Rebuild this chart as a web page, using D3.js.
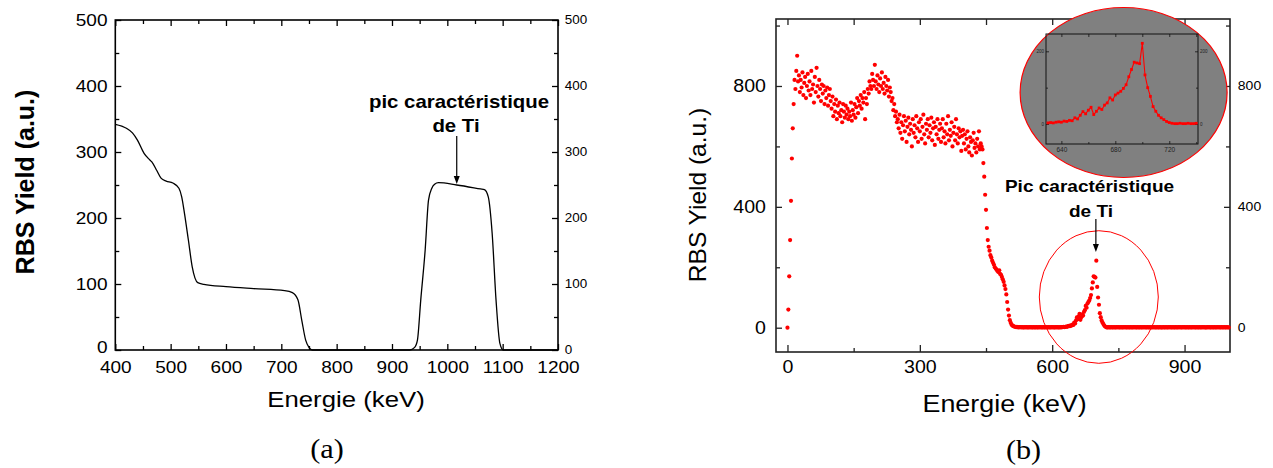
<!DOCTYPE html>
<html><head><meta charset="utf-8">
<script src="https://cdn.jsdelivr.net/npm/d3@7"></script>
<style>body{margin:0;background:#fff}svg{display:block}</style>
</head><body>
<svg id="c" width="1273" height="468"></svg>
<script>
// ---------- Panel (a): simulated RBS spectrum ----------
const simEnergy = [400,420,431,440,452,460,466,475,483,492,504,515,520,525,532,539,549,560,600,650,706,720,730,737,744,750,756,800,900,932,941,946,952,960,966,972,977,984,1017,1060,1067,1074,1081,1088,1095,1101,1150,1200];
const simYield  = [342,336,329,318,298,290,285,272,260,256,253,245,232,207,167,126,102,99.5,96,93,90,87,76,45,15,4,0,0,0,0,4,15,76,152,227,245,251,253.5,250,244,243,232,177,76,10,0,0,0];
const aXTicks = [400,500,600,700,800,900,1000,1100,1200];
const aXMinor = [450,550,650,750,850,950,1050,1150];
const aYTicks = [0,100,200,300,400,500];
const aYMinor = [50,150,250,350,450];

// ---------- Panel (b): measured RBS spectrum (2 keV channels from 0 keV) ----------
const spectrumStart = 0;
const spectrumStep = 2;
const spectrumYield = [
 0,60,170,290,420,560,660,740,820,790,850,900,815,835,780,820,795,845,770,810,830,760,800,840,785,
 815,770,850,790,805,745,830,780,860,800,765,820,790,750,805,775,800,740,785,760,795,735,770,790,750,
 725,765,700,740,715,755,690,735,710,745,700,720,680,740,715,695,735,705,725,690,715,700,745,685,720,
 705,740,695,730,760,710,750,735,770,725,760,745,780,690,760,740,790,775,815,800,790,840,820,800,870,
 815,790,835,805,780,825,800,845,790,810,775,830,800,785,820,765,795,780,750,760,720,740,700,715,680,
 690,660,705,645,680,625,670,700,650,685,615,665,695,640,675,655,600,690,645,670,630,700,660,615,680,
 650,690,625,665,705,640,610,675,655,690,630,670,645,695,620,660,680,605,665,640,690,625,655,675,615,
 660,690,630,650,610,675,640,700,620,655,635,680,600,645,665,620,690,640,610,660,630,650,585,635,655,
 610,640,590,625,650,600,580,630,615,570,620,645,595,610,580,625,600,650,590,610,600,590,545,500,440,
 390,330,290,268,255,240,232,222,215,208,200,196,192,188,184,190,178,175,168,160,152,140,128,110,85,
 60,40,25,16,10,7,5,4,3,2,3,2,1,2,2,1,2,1,1,2,1,2,1,1,2,
 1,2,1,1,2,1,1,2,1,1,2,1,2,1,1,2,1,1,2,1,1,2,1,1,2,
 1,2,1,1,2,1,2,1,1,2,1,2,2,3,2,3,4,3,5,6,5,8,7,10,9,
 17,14,24,34,28,38,46,26,35,44,40,52,58,72,66,80,85,90,98,108,130,150,170,168,166,
 222,135,100,76,48,35,24,17,12,7,4,2,1,1,2,1,1,2,1,1,2,1,1,2,1,
 2,1,1,2,1,1,2,1,2,1,1,2,1,1,2,1,1,2,1,2,1,1,2,1,1,
 2,1,1,2,1,2,1,1,2,1,1,2,1,1,2,1,2,1,1,2,1,1,2,1,1,
 1,2,1,1,2,1,1,2,1,2,1,1,2,1,1,2,1,1,2,1,2,1,1,2,1,
 2,1,1,2,1,1,2,1,1,2,1,2,1,1,2,1,1,2,1,1,2,1,2,1,1,
 1,2,1,2,1,1,2,1,1,2,1,1,2,1,2,1,1,2,1,1,2,1,1,2,1,
 1
];
const bXTicks = [0,300,600,900];
const bXMinor = [150,450,750];
const bYTicks = [0,400,800];
const bYMinor = [200,600,1000];
const insetXTicks = [640,680,720];
const insetXMinor = [660,700,740];
const insetYTicks = [0,200];
const insetYMinor = [100];

const spectrum = spectrumYield.map((v,i)=>({e: spectrumStart + i*spectrumStep, y: v}));

// ---------- drawing ----------
const SX = 1.12;
const FONT = "'Liberation Sans', Arial, Helvetica, sans-serif";
const SERIF = "'Liberation Serif', 'Times New Roman', serif";
const svg = d3.select("#c");

function txt(g, x, y, s, o = {}) {
  const t = g.append("text")
    .attr("transform", `translate(${x},${y}) scale(${o.sx ?? SX},1)` + (o.rot ? ` rotate(${o.rot})` : ""))
    .attr("text-anchor", o.anchor || "middle")
    .attr("font-family", o.family || FONT)
    .attr("font-size", o.size || 17)
    .attr("font-weight", o.weight || "normal")
    .attr("fill", o.fill || "#000")
    .text(s);
  return t;
}
function styleAxis(g, size, color) {
  g.select(".domain").remove();
  g.selectAll(".tick line").attr("stroke", color).attr("stroke-width", 1.3);
  g.selectAll(".tick text").attr("font-family", FONT).attr("font-size", size).attr("fill", "#000")
    .attr("transform", `scale(${SX},1)`);
}
function arrow(g, x, y1, y2) {
  g.append("line").attr("x1", x).attr("x2", x).attr("y1", y1).attr("y2", y2 - 6)
    .attr("stroke", "#000").attr("stroke-width", 1.2);
  g.append("path").attr("d", `M${x-3},${y2-8} L${x+3},${y2-8} L${x},${y2} Z`).attr("fill", "#000");
}

// ===== Panel (a) =====
{
  const L = 115.3, R = 558, T = 20, B = 350;
  const x = d3.scaleLinear().domain([400, 1200]).range([L, R]);
  const y = d3.scaleLinear().domain([0, 500]).range([B, T]);
  const g = svg.append("g");

  const axB = g.append("g").attr("transform", `translate(0,${B})`)
    .call(d3.axisBottom(x).tickValues(aXTicks).tickSizeInner(-6).tickSizeOuter(0).tickPadding(11).tickFormat(d3.format("d")));
  styleAxis(axB, 17, "#000");
  styleAxis(g.append("g").attr("transform", `translate(0,${B})`)
    .call(d3.axisBottom(x).tickValues(aXMinor).tickSizeInner(-4).tickSizeOuter(0).tickFormat("")), 17, "#000");
  styleAxis(g.append("g").attr("transform", `translate(0,${T})`)
    .call(d3.axisTop(x).tickValues(aXTicks).tickSizeInner(-6).tickSizeOuter(0).tickFormat("")), 17, "#000");
  styleAxis(g.append("g").attr("transform", `translate(0,${T})`)
    .call(d3.axisTop(x).tickValues(aXMinor).tickSizeInner(-4).tickSizeOuter(0).tickFormat("")), 17, "#000");

  const axL = g.append("g").attr("transform", `translate(${L},0)`)
    .call(d3.axisLeft(y).tickValues(aYTicks).tickSizeInner(-6).tickSizeOuter(0).tickPadding(7));
  styleAxis(axL, 17, "#000");
  axL.selectAll(".tick text").filter(d => d === 0).attr("dy", "0.15em");
  styleAxis(g.append("g").attr("transform", `translate(${L},0)`)
    .call(d3.axisLeft(y).tickValues(aYMinor).tickSizeInner(-4).tickSizeOuter(0).tickFormat("")), 17, "#000");
  styleAxis(g.append("g").attr("transform", `translate(${R},0)`)
    .call(d3.axisRight(y).tickValues(aYTicks).tickSizeInner(-6).tickSizeOuter(0).tickPadding(6)), 12, "#000");
  styleAxis(g.append("g").attr("transform", `translate(${R},0)`)
    .call(d3.axisRight(y).tickValues(aYMinor).tickSizeInner(-4).tickSizeOuter(0).tickFormat("")), 12, "#000");

  g.append("rect").attr("x", L).attr("y", T).attr("width", R - L).attr("height", B - T)
    .attr("fill", "none").attr("stroke", "#000").attr("stroke-width", 1.6);

  const line = d3.line().x((d, i) => x(simEnergy[i])).y((d) => y(d)).curve(d3.curveMonotoneX);
  g.append("path").attr("d", line(simYield)).attr("fill", "none").attr("stroke", "#000").attr("stroke-width", 1.3);

  txt(g, 459, 108, "pic caractéristique", {size: 18.2, weight: "bold"});
  txt(g, 456, 132, "de Ti", {size: 18.2, weight: "bold"});
  arrow(g, x(1017), 136, 184);

  txt(g, 346, 407, "Energie (keV)", {size: 23});
  txt(g, 34, 182, "RBS Yield (a.u.)", {size: 25, weight: "bold", rot: -90, sx: 1});
  txt(g, 327, 458, "(a)", {size: 27, family: SERIF});
}

// ===== Panel (b) =====
{
  const L = 776, R = 1230, T = 19, B = 352;
  const x = d3.scaleLinear().domain([-26, 1003]).range([L, R]);
  const y = d3.scaleLinear().domain([-80.4, 1021.7]).range([B, T]);
  const g = svg.append("g");
  const AC = "#222";

  styleAxis(g.append("g").attr("transform", `translate(0,${B})`)
    .call(d3.axisBottom(x).tickValues(bXTicks).tickSizeInner(-7).tickSizeOuter(0).tickPadding(9)), 17.5, AC);
  styleAxis(g.append("g").attr("transform", `translate(0,${B})`)
    .call(d3.axisBottom(x).tickValues(bXMinor).tickSizeInner(-4).tickSizeOuter(0).tickFormat("")), 17, AC);
  styleAxis(g.append("g").attr("transform", `translate(0,${T})`)
    .call(d3.axisTop(x).tickValues(bXTicks).tickSizeInner(-6).tickSizeOuter(0).tickFormat("")), 17, AC);
  styleAxis(g.append("g").attr("transform", `translate(0,${T})`)
    .call(d3.axisTop(x).tickValues(bXMinor).tickSizeInner(-6).tickSizeOuter(0).tickFormat("")), 17, AC);
  styleAxis(g.append("g").attr("transform", `translate(${L},0)`)
    .call(d3.axisLeft(y).tickValues(bYTicks).tickSizeInner(-6).tickSizeOuter(0).tickPadding(9)), 17.5, AC);
  styleAxis(g.append("g").attr("transform", `translate(${L},0)`)
    .call(d3.axisLeft(y).tickValues(bYMinor).tickSizeInner(-4).tickSizeOuter(0).tickFormat("")), 17, AC);
  styleAxis(g.append("g").attr("transform", `translate(${R},0)`)
    .call(d3.axisRight(y).tickValues(bYTicks).tickSizeInner(-6).tickSizeOuter(0).tickPadding(7)), 12.5, AC);
  styleAxis(g.append("g").attr("transform", `translate(${R},0)`)
    .call(d3.axisRight(y).tickValues(bYMinor).tickSizeInner(-4).tickSizeOuter(0).tickFormat("")), 12, AC);

  g.append("rect").attr("x", L).attr("y", T).attr("width", R - L).attr("height", B - T)
    .attr("fill", "none").attr("stroke", AC).attr("stroke-width", 1.6);

  g.append("g").selectAll("circle").data(spectrum).join("circle")
    .attr("cx", d => x(d.e)).attr("cy", d => y(d.y)).attr("r", 2.1).attr("fill", "#ff0000");

  // red circle around the Ti peak
  g.append("ellipse").attr("cx", 1098.8).attr("cy", 297).attr("rx", 59.5).attr("ry", 66.3)
    .attr("fill", "none").attr("stroke", "#ff0000").attr("stroke-width", 1);

  txt(g, 1089.5, 192, "Pic caractéristique", {size: 17, weight: "bold"});
  txt(g, 1091, 216.5, "de Ti", {size: 17, weight: "bold"});
  arrow(g, x(699), 219, 252);

  txt(g, 1004.6, 412, "Energie (keV)", {size: 24});
  txt(g, 706, 195, "RBS Yield (a.u.)", {size: 24.5, rot: -90, sx: 1});
  txt(g, 1023.5, 459, "(b)", {size: 27, family: SERIF});

  // ----- inset -----
  const ig = g.append("g");
  ig.append("ellipse").attr("cx", 1123.6).attr("cy", 92.5).attr("rx", 103.5).attr("ry", 85)
    .attr("fill", "#808080").attr("stroke", "#ff0000").attr("stroke-width", 1.2);
  const iL = 1046, iR = 1198, iT = 34, iB = 144;
  const ix = d3.scaleLinear().domain([628.6, 741.3]).range([iL, iR]);
  const iy = d3.scaleLinear().domain([-55, 247.6]).range([iB, iT]);
  const sub = spectrum.filter(d => d.e >= 629 && d.e <= 741);

  const small = (sel) => { sel.select(".domain").remove();
    sel.selectAll(".tick line").attr("stroke", "#111").attr("stroke-width", 0.8);
    sel.selectAll(".tick text").attr("font-family", FONT).attr("fill", "#222"); return sel; };
  small(ig.append("g").attr("transform", `translate(0,${iB})`)
    .call(d3.axisBottom(ix).tickValues(insetXTicks).tickSizeInner(-3).tickSizeOuter(0).tickPadding(3)))
    .selectAll(".tick text").attr("font-size", 6.5);
  small(ig.append("g").attr("transform", `translate(0,${iB})`)
    .call(d3.axisBottom(ix).tickValues(insetXMinor).tickSizeInner(-2).tickSizeOuter(0).tickFormat("")));
  small(ig.append("g").attr("transform", `translate(0,${iT})`)
    .call(d3.axisTop(ix).tickValues(insetXTicks.concat(insetXMinor)).tickSizeInner(-3).tickSizeOuter(0).tickFormat("")));
  small(ig.append("g").attr("transform", `translate(${iL},0)`)
    .call(d3.axisLeft(iy).tickValues(insetYTicks).tickSizeInner(-3).tickSizeOuter(0).tickPadding(2)))
    .selectAll(".tick text").attr("font-size", 4.5);
  small(ig.append("g").attr("transform", `translate(${iL},0)`)
    .call(d3.axisLeft(iy).tickValues(insetYMinor).tickSizeInner(-2).tickSizeOuter(0).tickFormat("")));
  small(ig.append("g").attr("transform", `translate(${iR},0)`)
    .call(d3.axisRight(iy).tickValues(insetYTicks).tickSizeInner(-3).tickSizeOuter(0).tickPadding(2)))
    .selectAll(".tick text").attr("font-size", 4.5);
  small(ig.append("g").attr("transform", `translate(${iR},0)`)
    .call(d3.axisRight(iy).tickValues(insetYMinor).tickSizeInner(-2).tickSizeOuter(0).tickFormat("")));

  ig.append("rect").attr("x", iL).attr("y", iT).attr("width", iR - iL).attr("height", iB - iT)
    .attr("fill", "none").attr("stroke", "#111").attr("stroke-width", 1);
  ig.append("path").datum(sub)
    .attr("d", d3.line().x(d => ix(d.e)).y(d => iy(d.y)))
    .attr("fill", "none").attr("stroke", "#ff0000").attr("stroke-width", 1.1);
  ig.append("g").selectAll("rect").data(sub).join("rect")
    .attr("x", d => ix(d.e) - 1.4).attr("y", d => iy(d.y) - 1.4).attr("width", 2.8).attr("height", 2.8)
    .attr("fill", "#ff0000");
}
</script>
</body></html>
